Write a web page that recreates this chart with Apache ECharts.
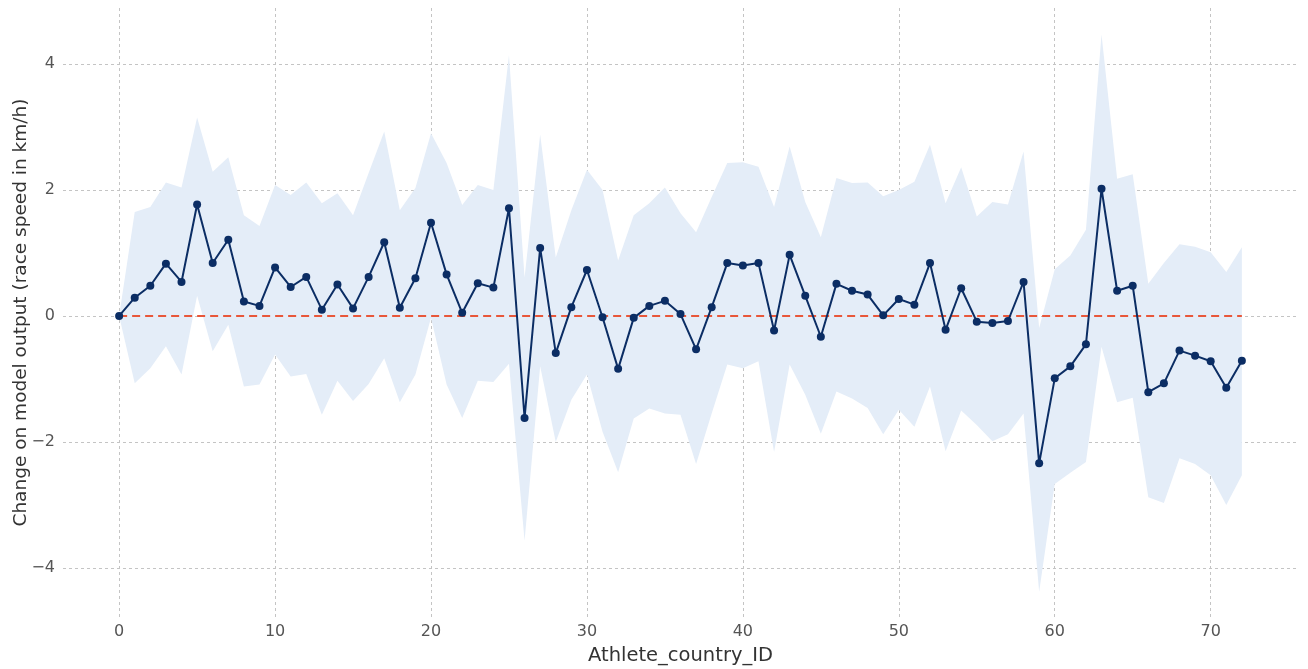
<!DOCTYPE html>
<html><head><meta charset="utf-8">
<script src="https://cdn.jsdelivr.net/npm/echarts@6/dist/echarts.min.js"></script>
<style>html,body{margin:0;padding:0;background:#fff}#c{width:1308px;height:669px}</style>
</head><body><div id="c"></div>
<script>
const ids = [0,1,2,3,4,5,6,7,8,9,10,11,12,13,14,15,16,17,18,19,20,21,22,23,24,25,26,27,28,29,30,31,32,33,34,35,36,37,38,39,40,41,42,43,44,45,46,47,48,49,50,51,52,53,54,55,56,57,58,59,60,61,62,63,64,65,66,67,68,69,70,71,72];
const meanChange = [0,0.29,0.48,0.83,0.54,1.77,0.84,1.21,0.23,0.16,0.77,0.46,0.62,0.10,0.50,0.12,0.62,1.17,0.13,0.60,1.48,0.66,0.05,0.52,0.45,1.71,-1.62,1.08,-0.59,0.14,0.73,-0.02,-0.84,-0.03,0.16,0.24,0.03,-0.53,0.14,0.84,0.80,0.84,-0.23,0.97,0.32,-0.33,0.51,0.40,0.34,0.01,0.27,0.18,0.84,-0.22,0.44,-0.09,-0.11,-0.08,0.54,-2.34,-0.99,-0.80,-0.45,2.02,0.40,0.48,-1.21,-1.07,-0.55,-0.63,-0.72,-1.14,-0.71];
const upperBand = [0,1.65,1.73,2.12,2.04,3.15,2.29,2.52,1.60,1.43,2.08,1.92,2.12,1.79,1.95,1.60,2.27,2.93,1.68,2.03,2.90,2.43,1.76,2.08,2.00,4.14,0.61,2.88,0.93,1.68,2.32,2.00,0.88,1.60,1.79,2.04,1.63,1.33,1.89,2.43,2.44,2.37,1.73,2.69,1.81,1.25,2.19,2.11,2.12,1.90,2.00,2.13,2.72,1.79,2.36,1.58,1.81,1.77,2.61,-0.19,0.74,0.96,1.37,4.47,2.18,2.25,0.51,0.84,1.14,1.10,1.01,0.70,1.09];
const lowerBand = [0,-1.07,-0.83,-0.48,-0.93,0.32,-0.56,-0.14,-1.12,-1.09,-0.61,-0.96,-0.92,-1.57,-1.03,-1.35,-1.08,-0.67,-1.37,-0.93,-0.03,-1.09,-1.62,-1.03,-1.05,-0.76,-3.57,-0.80,-2.00,-1.33,-0.93,-1.84,-2.48,-1.63,-1.47,-1.55,-1.57,-2.35,-1.55,-0.77,-0.83,-0.72,-2.16,-0.77,-1.25,-1.87,-1.20,-1.31,-1.46,-1.88,-1.49,-1.76,-1.12,-2.15,-1.50,-1.73,-1.99,-1.88,-1.55,-4.38,-2.67,-2.49,-2.32,-0.49,-1.37,-1.30,-2.88,-2.97,-2.26,-2.35,-2.53,-3.00,-2.53];
const refX = [0,72];
const refY = [0,0];
const xTicks = [0,10,20,30,40,50,60,70];
const yTicks = [-4,-2,0,2,4];

const FONT = 'DejaVu Sans';
const chart = echarts.init(document.getElementById('c'), null, {renderer:'canvas'});
// rows are [value, id] so the stacked dimension is the y value
const lowerData = ids.map((x,i)=>[lowerBand[i], x]);
const spanData = ids.map((x,i)=>[upperBand[i]-lowerBand[i], x]);
const meanData = ids.map((x,i)=>[x, meanChange[i]]);
const refData = refX.map((x,i)=>[x, refY[i]]);
const gridLine = {show:true, lineStyle:{color:'#c4c4c4', type:[3,3], width:1}};
chart.setOption({
  animation:false,
  backgroundColor:'#ffffff',
  grid:{left:63, right:10, top:8, bottom:52, containLabel:false, outerBoundsMode:'none'},
  xAxis:{
    type:'value', min:-3.6, max:75.6,
    axisLine:{show:false}, axisTick:{show:false, customValues:xTicks},
    splitLine:gridLine,
    axisLabel:{customValues:xTicks, color:'#555', fontFamily:FONT, fontSize:16, margin:7},
    name:'Athlete_country_ID', nameLocation:'middle', nameGap:29, nameMoveOverlap:false,
    nameTextStyle:{color:'#333', fontFamily:FONT, fontSize:19.5}
  },
  yAxis:{
    type:'value', min:-4.78, max:4.89,
    axisLine:{show:false}, axisTick:{show:false, customValues:yTicks},
    splitLine:gridLine,
    axisLabel:{customValues:yTicks, color:'#555', fontFamily:FONT, fontSize:16, margin:8,
      formatter:v=>v<0?'\u2212'+Math.abs(v):String(v)},
    name:'Change on model output (race speed in km/h)', nameLocation:'middle', nameGap:32, nameMoveOverlap:false,
    nameTextStyle:{color:'#333', fontFamily:FONT, fontSize:18.5}
  },
  series:[
    {type:'line', data:lowerData, encode:{x:1, y:0}, stack:'band', stackStrategy:'all', symbol:'none',
     lineStyle:{opacity:0}, silent:true, z:1},
    {type:'line', data:spanData, encode:{x:1, y:0}, stack:'band', stackStrategy:'all', symbol:'none',
     lineStyle:{opacity:0}, areaStyle:{color:'#e4edf8', opacity:1}, silent:true, z:1},
    {type:'line', data:refData, symbol:'none',
     lineStyle:{color:'#e8573a', width:2, type:[8,5]}, z:2},
    {type:'line', data:meanData, symbol:'circle', symbolSize:8,
     itemStyle:{color:'#0b2d64'}, lineStyle:{color:'#0b2d64', width:2}, z:3}
  ]
});
</script></body></html>
